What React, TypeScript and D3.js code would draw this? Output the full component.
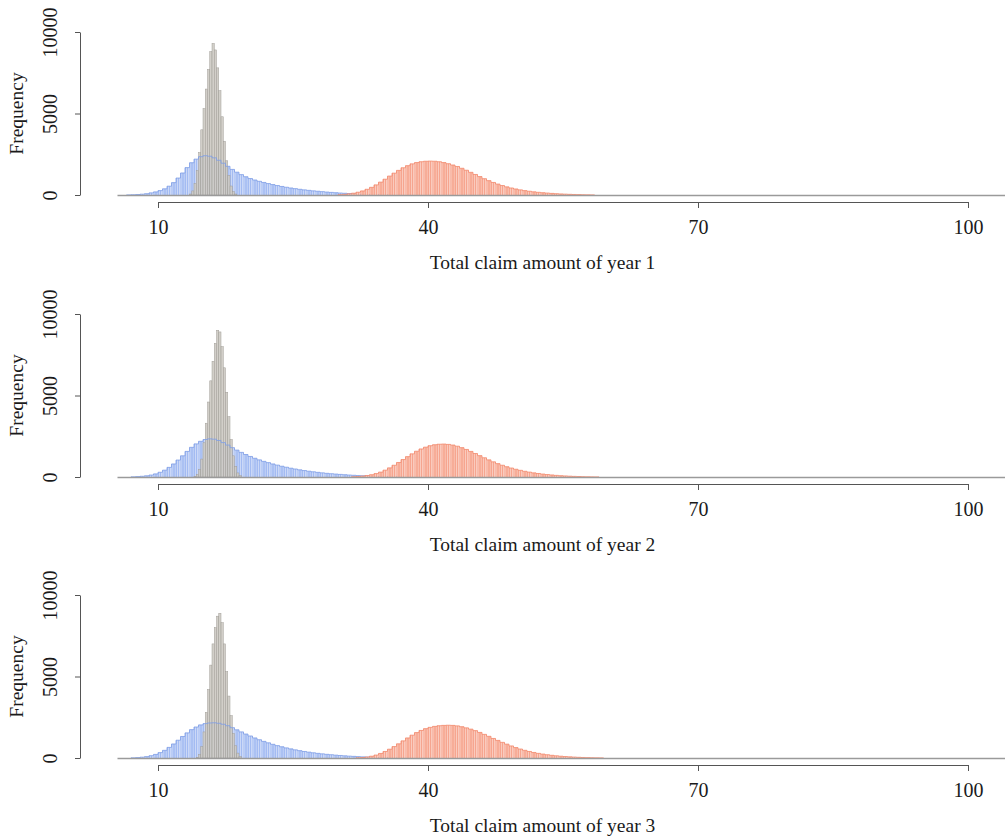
import React, { useEffect, useRef } from 'react';
import * as d3 from 'd3';

// axis ticks and labels
const xTicks = [10, 40, 70, 100];
const yTicks = [0, 5000, 10000];
const xTitles = ['Total claim amount of year 1', 'Total claim amount of year 2', 'Total claim amount of year 3'];

// bin widths
const wideBin = 0.5;
const grayBin = 0.25;

// first bin start per panel
const blueStarts = [6.5, 7, 7];
const grayStarts = [13.5, 14, 14.25];
const redStarts = [30, 31.5, 32];

// blue histogram counts
const blue1 = [5, 15, 30, 50, 80, 130, 190, 270, 380, 540, 760, 1040, 1350, 1680, 1980, 2200, 2350, 2410, 2380, 2280, 2130, 1950, 1760, 1570, 1400, 1250, 1120, 1010, 920, 840, 770, 700, 640, 580, 525, 475, 430, 390, 350, 315, 285, 255, 230, 205, 180, 160, 140, 120, 105, 90, 75, 62, 50, 40, 32, 25, 18, 12, 8];
const blue2 = [10, 25, 45, 75, 120, 190, 290, 420, 590, 800, 1040, 1300, 1570, 1820, 2030, 2190, 2300, 2340, 2320, 2240, 2110, 1960, 1800, 1650, 1510, 1380, 1260, 1150, 1050, 960, 880, 800, 730, 660, 600, 540, 490, 440, 395, 355, 320, 285, 255, 225, 200, 180, 160, 140, 120, 105, 90, 75, 62, 50, 40, 32, 25, 18, 12, 8];
const blue3 = [10, 25, 50, 85, 140, 220, 330, 470, 650, 860, 1090, 1320, 1540, 1740, 1900, 2030, 2110, 2150, 2160, 2130, 2070, 1980, 1860, 1730, 1600, 1470, 1350, 1230, 1120, 1020, 930, 840, 760, 690, 620, 560, 500, 450, 400, 360, 320, 285, 255, 225, 200, 175, 155, 135, 115, 100, 85, 70, 58, 46, 36, 28, 20, 14, 9];

// gray histogram counts
const gray1 = [60, 250, 700, 1500, 2600, 4000, 5300, 6500, 7700, 8800, 9300, 8900, 7800, 6400, 4800, 3300, 2100, 1200, 550, 200, 60];
const gray2 = [40, 150, 450, 1100, 2100, 3300, 4600, 5900, 7100, 8200, 9000, 8900, 8000, 6700, 5200, 3700, 2300, 1300, 650, 250, 80];
const gray3 = [40, 200, 700, 1600, 2800, 4200, 5700, 7000, 8000, 8700, 8880, 8300, 7000, 5300, 3800, 2600, 1500, 750, 300, 100];

// red histogram counts
const red1 = [20, 40, 70, 110, 170, 250, 350, 470, 620, 790, 970, 1160, 1340, 1510, 1670, 1800, 1910, 1990, 2040, 2070, 2080, 2070, 2040, 1990, 1920, 1840, 1750, 1640, 1520, 1390, 1260, 1130, 1000, 880, 770, 670, 580, 500, 430, 370, 315, 270, 230, 195, 165, 140, 118, 98, 80, 65, 52, 41, 32, 24, 17, 11, 6];
const red2 = [15, 30, 55, 90, 140, 210, 300, 420, 560, 720, 890, 1070, 1250, 1420, 1580, 1720, 1830, 1920, 1980, 2010, 2020, 2000, 1960, 1890, 1800, 1690, 1570, 1440, 1310, 1180, 1050, 930, 820, 720, 630, 550, 475, 410, 350, 300, 255, 215, 180, 150, 125, 100, 80, 65, 50, 38, 28, 20, 14, 9, 5];
const red3 = [15, 30, 60, 110, 180, 280, 400, 540, 700, 870, 1050, 1230, 1400, 1560, 1690, 1800, 1880, 1940, 1980, 2000, 2010, 2000, 1970, 1920, 1850, 1770, 1680, 1570, 1450, 1330, 1200, 1080, 960, 850, 740, 640, 550, 470, 400, 340, 285, 240, 200, 165, 135, 110, 90, 72, 56, 43, 32, 23, 16, 10, 6];

const blues = [blue1, blue2, blue3];
const grays = [gray1, gray2, gray3];
const reds = [red1, red2, red3];

const App = () => {
    const ref = useRef(null);

    useEffect(() => {
        const width = 1005;
        const svg = d3.select(ref.current);
        svg.selectAll('*').remove();

        const font = '"Liberation Serif", "DejaVu Serif", serif';
        const axisColor = '#555';
        const textColor = '#1a1a1a';

        // striped fills like the thin histogram bars
        const defs = svg.append('defs');
        const stripe = (id, c1, c2) => {
            const p = defs.append('pattern')
                .attr('id', id)
                .attr('patternUnits', 'userSpaceOnUse')
                .attr('width', 2.25)
                .attr('height', 10);
            p.append('rect').attr('width', 2.25).attr('height', 10).attr('fill', c2);
            p.append('rect').attr('width', 1.6).attr('height', 10).attr('fill', c1);
        };
        stripe('blueStripe', '#a3bbf2', '#dbe4fa');
        stripe('redStripe', '#f6a58f', '#fcdbd0');

        const x = d3.scaleLinear().domain([10, 100]).range([158, 968]);

        const panelOffsets = [0, 282, 563];

        panelOffsets.forEach((off, p) => {
            const y0 = 195 + off;
            const y = d3.scaleLinear().domain([0, 10000]).range([y0, y0 - 163]);
            const g = svg.append('g');

            const bins = (values, start, w) => values.map((v, i) => ({
                x0: start + i * w,
                x1: start + (i + 1) * w,
                v
            }));

            const drawBars = (data, fill, stroke, sw, opacity) => {
                g.append('g')
                    .selectAll('rect')
                    .data(data)
                    .join('rect')
                    .attr('x', d => x(d.x0))
                    .attr('width', d => x(d.x1) - x(d.x0))
                    .attr('y', d => y(d.v))
                    .attr('height', d => y(0) - y(d.v))
                    .attr('fill', fill)
                    .attr('fill-opacity', opacity)
                    .attr('stroke', stroke)
                    .attr('stroke-width', sw);
            };

            const outline = (data, color) => {
                const pts = [[data[0].x0, 0]];
                data.forEach(d => { pts.push([d.x0, d.v]); pts.push([d.x1, d.v]); });
                pts.push([data[data.length - 1].x1, 0]);
                g.append('path')
                    .datum(pts)
                    .attr('fill', 'none')
                    .attr('stroke', color)
                    .attr('stroke-width', 1)
                    .attr('stroke-opacity', 0.8)
                    .attr('d', d3.line().x(d => x(d[0])).y(d => y(d[1])));
            };

            const blue = bins(blues[p], blueStarts[p], wideBin);
            const gray = bins(grays[p], grayStarts[p], grayBin);
            const red = bins(reds[p], redStarts[p], wideBin);

            drawBars(blue, 'url(#blueStripe)', 'none', 0, 1);
            drawBars(gray, '#cdcac3', '#a19e98', 0.5, 0.9);
            outline(blue, '#7e9de6');
            drawBars(red, 'url(#redStripe)', 'none', 0, 1);
            outline(red, '#f2886c');

            // histogram baseline
            g.append('line')
                .attr('x1', x(5.5))
                .attr('x2', width)
                .attr('y1', y0 + 0.5)
                .attr('y2', y0 + 0.5)
                .attr('stroke', '#9a9a9a')
                .attr('stroke-width', 1.3);

            // x axis
            const xAxis = g.append('g')
                .attr('transform', `translate(0,${y0 + 7})`)
                .call(d3.axisBottom(x).tickValues(xTicks).tickSize(6).tickSizeOuter(0).tickPadding(12));
            xAxis.selectAll('path, line').attr('stroke', axisColor);
            xAxis.selectAll('text')
                .attr('fill', textColor)
                .style('font-family', font)
                .style('font-size', '20px');

            // y axis
            const yAxis = g.append('g')
                .attr('transform', 'translate(80,0)')
                .call(d3.axisLeft(y).tickValues(yTicks).tickFormat(d3.format('d')).tickSize(5).tickSizeOuter(0));
            yAxis.selectAll('path, line').attr('stroke', axisColor);
            yAxis.selectAll('text')
                .attr('x', null)
                .attr('dy', null)
                .attr('transform', 'translate(-30,0) rotate(-90)')
                .attr('dominant-baseline', 'central')
                .attr('text-anchor', 'middle')
                .attr('fill', textColor)
                .style('font-family', font)
                .style('font-size', '20px');

            // axis titles
            g.append('text')
                .attr('x', (80 + width) / 2)
                .attr('y', y0 + 74)
                .attr('text-anchor', 'middle')
                .attr('fill', textColor)
                .style('font-family', font)
                .style('font-size', '19.5px')
                .text(xTitles[p]);

            g.append('text')
                .attr('transform', `translate(16,${(y(0) + y(10000)) / 2}) rotate(-90)`)
                .attr('text-anchor', 'middle')
                .attr('dominant-baseline', 'central')
                .attr('fill', textColor)
                .style('font-family', font)
                .style('font-size', '19.5px')
                .text('Frequency');
        });
    }, []);

    return (
        <svg
            ref={ref}
            width={1005}
            height={837}
            style={{ position: 'absolute', left: 0, top: 0, background: '#fff' }}
        />
    );
};

export default App;
